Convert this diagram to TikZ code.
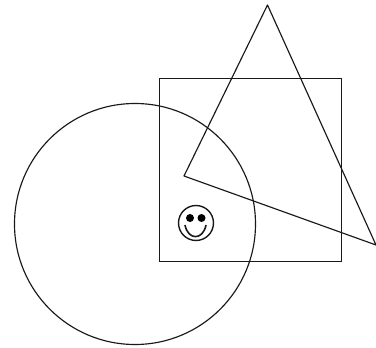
\documentclass[tikz,border=0pt]{standalone}
\tikzset{ln/.style={draw=black!90,line width=1.15pt}}
\begin{document}
\begin{tikzpicture}[x=1pt,y=-1pt]
\useasboundingbox[fill=white] (0,0) rectangle (376,348);
\draw[ln,line width=0.9pt] (159.4,78.4) rectangle (341.4,261.4);
\draw[ln] (135,224) circle (120.5);
\draw[ln,line join=round] (267.5,5) -- (376,245) -- (184,176) -- cycle;
\draw[ln,line width=1.4pt] (196,223) circle (17.5);
\fill (190,218) circle (4);
\fill (201.5,218) circle (4);
\draw[ln,line width=1.6pt] (185,225) .. controls (188,240.5) and (203,240.5) .. (206,225);
\end{tikzpicture}
\end{document}
